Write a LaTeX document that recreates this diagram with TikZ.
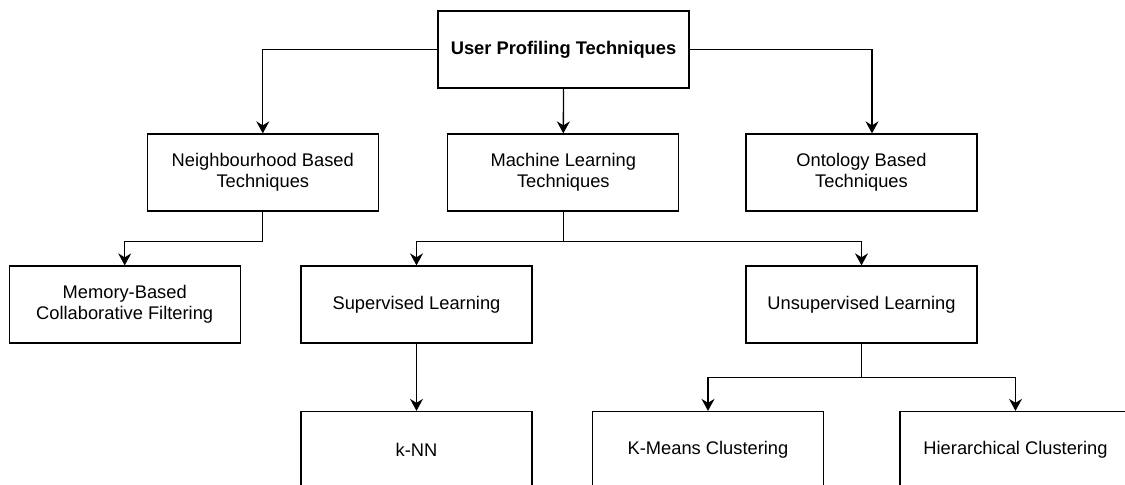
\documentclass[tikz,border=0pt]{standalone}
\usepackage{fontspec}
\setmainfont{Liberation Sans}
\usetikzlibrary{arrows.meta}
\begin{document}
\begin{tikzpicture}[x=0.5pt,y=-0.5pt,
  box/.style={draw=black, line width=0.65pt, fill=white, minimum width=115.5pt,
    minimum height=38.5pt, inner sep=0pt, align=center,
    font=\fontsize{9.15}{10.3}\selectfont},
  topbox/.style={box, minimum width=125.5pt, font=\fontsize{9.15}{10.3}\selectfont\bfseries},
  link/.style={draw=black, line width=0.65pt},
  arr/.style={link, -{Stealth[length=6pt,width=6.5pt,inset=2pt]}}]
\useasboundingbox (0,0) rectangle (1125,484);
\clip (0,0) rectangle (1125,484);

% junction heights of the elbow connectors
\coordinate (jn) at (0,241.7);
\coordinate (ju) at (0,377.7);

% boxes
\node[topbox] (top) at (563.5,49.5) {User Profiling Techniques};
\node[box] (nb)  at (262.8,172.5) {Neighbourhood Based\\Techniques};
\node[box] (ml)  at (563.3,172.5) {Machine Learning\\Techniques};
\node[box] (ont) at (861.5,172.5) {Ontology Based\\Techniques};
\node[box] (mem) at (124.7,304.5) {Memory-Based\\Collaborative Filtering};
\node[box] (sup) at (416.5,304.5) {Supervised Learning};
\node[box] (uns) at (861.5,304.5) {Unsupervised Learning};
\node[box] (knn) at (416.5,450) {k-NN};
\node[box] (km)  at (708,450) {K-Means Clustering};
\node[box] (hc)  at (1015.5,450) {Hierarchical Clustering};

% connectors
\draw[arr] (top.west) -| (nb.north);
\draw[arr] (top.south) -- (ml.north);
\draw[arr] (top.east) -| ([xshift=5.25pt]ont.north);

\draw[arr] (nb.south) -- (nb.south |- jn) -| (mem.north);

\draw[arr] (ml.south) -- (ml.south |- jn) -| (sup.north);
\draw[arr] (ml.south |- jn) -| (uns.north);

\draw[arr] (sup.south) -- (knn.north);

\draw[arr] (uns.south) -- (uns.south |- ju) -| (km.north);
\draw[arr] (uns.south |- ju) -| (hc.north);
\end{tikzpicture}
\end{document}
